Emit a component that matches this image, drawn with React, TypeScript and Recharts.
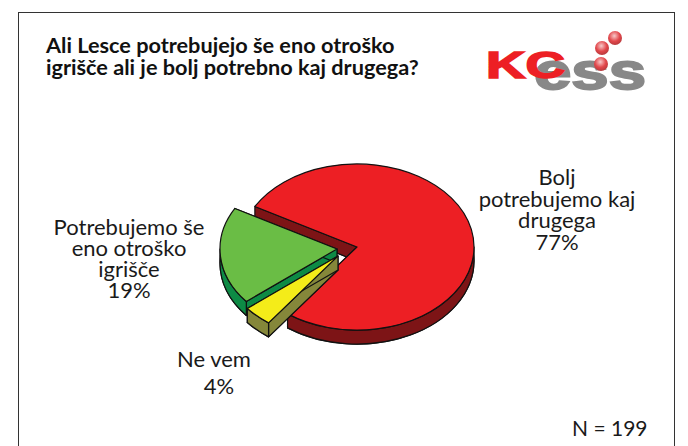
import React from 'react';
import { PieChart, Pie, Cell } from 'recharts';

const sliceNames = ['Bolj potrebujemo kaj drugega', 'Potrebujemo še eno otroško igrišče', 'Ne vem'];
const sliceValues = [77, 19, 4];
const sliceColors = ['#ed1f24', '#6abd45', '#f4ec19'];
const wallColors = ['#7d1416', '#0d8a45', '#85873a'];
const explodeX = [0, -20, -19];
const explodeY = [0, 2, 9];
const labelLines = [
  ['Bolj', 'potrebujemo kaj', 'drugega', '77%'],
  ['Potrebujemo še', 'eno otroško', 'igrišče', '19%'],
  ['Ne vem', '4%'],
];
const labelX = [557, 129, 214];
const labelY = [185, 235, 367];
const labelStep = [21.5, 21, 27];
const lastLineShift = [0, 0, 5];

const SQUASH = 0.71; // pie is tilted, circle -> ellipse
const DEPTH = 14;
const FONT = 'Lato, sans-serif';
const RAD = Math.PI / 180;

function TiltedSlice(props: any) {
  const { cx, cy, outerRadius, startAngle, endAngle, index } = props;
  const ox = cx + explodeX[index];
  const oy = cy + explodeY[index];
  const rx = outerRadius;
  const ry = outerRadius * SQUASH;
  const at = (deg: number, dy = 0) =>
    `${(ox + rx * Math.cos(deg * RAD)).toFixed(2)} ${(oy + dy - ry * Math.sin(deg * RAD)).toFixed(2)}`;
  const a0 = Math.max(startAngle, endAngle);
  const a1 = Math.min(startAngle, endAngle);
  const large = a0 - a1 > 180 ? 1 : 0;
  const face = (dy: number) =>
    `M ${ox} ${oy + dy} L ${at(a0, dy)} A ${rx} ${ry} 0 ${large} 1 ${at(a1, dy)} Z`;
  const edge = (deg: number) =>
    `M ${ox} ${oy} L ${at(deg)} L ${at(deg, DEPTH)} L ${ox} ${oy + DEPTH} Z`;
  // front facing part of the rim, angles between 180 and 360 going clockwise
  const rims: string[] = [];
  [[360, 180], [0, -180]].forEach(([top, bottom]) => {
    const h = Math.min(a0, top);
    const l = Math.max(a1, bottom);
    if (h > l) {
      rims.push(
        `M ${at(h)} A ${rx} ${ry} 0 0 1 ${at(l)} L ${at(l, DEPTH)} A ${rx} ${ry} 0 0 0 ${at(h, DEPTH)} Z`,
      );
    }
  });
  const line = { stroke: '#111', strokeWidth: 1.2, strokeLinejoin: 'round' as const };
  return (
    <g>
      <path d={face(DEPTH)} fill={wallColors[index]} {...line} />
      <path d={edge(a0)} fill={wallColors[index]} {...line} />
      <path d={edge(a1)} fill={wallColors[index]} {...line} />
      {rims.map((d) => (
        <path key={d} d={d} fill={wallColors[index]} {...line} />
      ))}
      <path d={face(0)} fill={sliceColors[index]} {...line} />
    </g>
  );
}

function SliceLabel({ index }: any) {
  const lines = labelLines[index];
  return (
    <text textAnchor="middle" fontFamily={FONT} fontSize={22} fill="#1a1a1a">
      {lines.map((t, i) => (
        <tspan
          key={t}
          x={labelX[index] + (i === lines.length - 1 ? lastLineShift[index] : 0)}
          y={labelY[index] + i * labelStep[index]}
        >
          {t}
        </tspan>
      ))}
    </text>
  );
}

export default function App() {
  const data = sliceNames.map((name, i) => ({ name, value: sliceValues[i] }));
  return (
    <div style={{ position: 'absolute', left: 0, top: 0, width: 688, height: 446, overflow: 'hidden', background: '#fff' }}>
      <div style={{ position: 'absolute', left: 18, top: 12, width: 655, height: 450, border: '1px solid #333' }} />
      <div
        style={{
          position: 'absolute',
          left: 46,
          top: 34,
          fontFamily: FONT,
          fontWeight: 700,
          fontSize: 21.7,
          lineHeight: '22px',
          color: '#111',
          whiteSpace: 'nowrap',
        }}
      >
        Ali Lesce potrebujejo še eno otroško
        <br />
        igrišče ali je bolj potrebno kaj drugega?
      </div>
      <svg width={688} height={446} style={{ position: 'absolute', left: 0, top: 0 }}>
        <defs>
          <radialGradient id="ball" cx="45%" cy="35%" r="65%">
            <stop offset="0%" stopColor="#f7c9c9" />
            <stop offset="60%" stopColor="#e2474b" />
            <stop offset="100%" stopColor="#b8393c" />
          </radialGradient>
        </defs>
        <text x={534} y={89} fontFamily="Liberation Sans" fontWeight={700} fontSize={52} fill="#888" stroke="#888" strokeWidth={2} textLength={112} lengthAdjust="spacingAndGlyphs">
          ess
        </text>
        <text x={486} y={78} fontFamily="Liberation Sans" fontWeight={700} fontSize={36} fill="#ed1f24" stroke="#ed1f24" strokeWidth={1.5} textLength={79} lengthAdjust="spacingAndGlyphs">
          KC
        </text>
        <circle cx={615} cy={38} r={7} fill="url(#ball)" />
        <circle cx={602} cy={48} r={7} fill="url(#ball)" />
        <circle cx={601} cy={64} r={7} fill="url(#ball)" />
        <text x={572} y={436} fontFamily={FONT} fontSize={21} fill="#1a1a1a">
          N = 199
        </text>
      </svg>
      <div style={{ position: 'absolute', left: 0, top: 0 }}>
        <PieChart width={688} height={446} margin={{ top: 0, right: 0, bottom: 0, left: 0 }}>
          <Pie
            data={data}
            dataKey="value"
            nameKey="name"
            cx={357}
            cy={247}
            innerRadius={0}
            outerRadius={117}
            startAngle={-126.4}
            endAngle={233.6}
            paddingAngle={0}
            stroke="none"
            isAnimationActive={false}
            shape={TiltedSlice}
            label={SliceLabel}
            labelLine={false}
          >
            {data.map((d, i) => (
              <Cell key={d.name} fill={sliceColors[i]} />
            ))}
          </Pie>
        </PieChart>
      </div>
    </div>
  );
}
